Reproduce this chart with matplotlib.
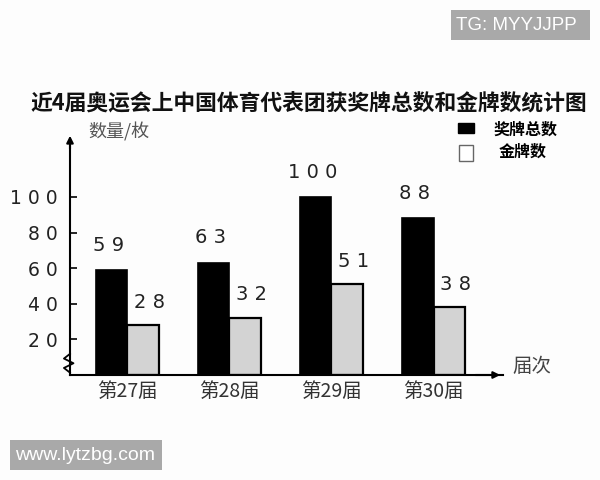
import matplotlib.pyplot as plt
import numpy as np

plt.rcParams['font.family'] = ['Noto Sans CJK SC', 'DejaVu Sans']

sessions = ['第27届', '第28届', '第29届', '第30届']
total_medals = [59, 63, 100, 88]
gold_medals = [28, 32, 51, 38]
yticks = [20, 40, 60, 80, 100]

fig = plt.figure(figsize=(6, 4.8), dpi=100)
fig.patch.set_facecolor('#fdfdfd')
# axes placed in pixel terms: left spine x=70, baseline y=375
ax = fig.add_axes([70 / 600, 1 - 375 / 480, 433 / 600, 235 / 480])
ax.set_facecolor('none')

x = np.arange(len(sessions))
w = 0.31
ax.bar(x - w / 2, total_medals, w, color='black', edgecolor='black', linewidth=1.2)
ax.bar(x + w / 2, gold_medals, w, color='#d3d3d3', edgecolor='black', linewidth=1.6)

for i in range(len(sessions)):
    ax.text(x[i] - w / 2 - 0.03, total_medals[i] + 14, ' '.join(str(total_medals[i])),
            ha='center', va='center', fontsize=14, color='#222222', family='DejaVu Sans')
    ax.text(x[i] + w / 2 + 0.06, gold_medals[i] + 13, ' '.join(str(gold_medals[i])),
            ha='center', va='center', fontsize=14, color='#222222', family='DejaVu Sans')

ax.set_xlim(-0.56, 3.68)
ax.set_ylim(0, 132)
ax.spines['top'].set_visible(False)
ax.spines['right'].set_visible(False)
ax.spines['left'].set_linewidth(1.5)
ax.spines['bottom'].set_linewidth(1.5)

ax.set_yticks(yticks)
ax.set_yticklabels([' '.join(str(t)) for t in yticks], fontsize=13.5, color='#222222',
                   family='DejaVu Sans')
ax.tick_params(axis='y', direction='in', length=5, width=1.2, pad=9)
ax.set_xticks(x)
ax.set_xticklabels(sessions, fontsize=14, color='#333333')
ax.tick_params(axis='x', length=0, pad=4)

# arrows on axes
ax.annotate('', xy=(0, 1.03), xytext=(0, 0.95), xycoords='axes fraction',
            arrowprops=dict(arrowstyle='-|>', color='black', lw=1.5, mutation_scale=10))
ax.annotate('', xy=(1.0, 0), xytext=(0.93, 0), xycoords='axes fraction',
            arrowprops=dict(arrowstyle='-|>', color='black', lw=1.5, mutation_scale=10))

# break mark on y axis
ax.plot([0, -0.014, 0.008, -0.014, 0], [0.01, 0.03, 0.05, 0.07, 0.09],
        transform=ax.transAxes, color='black', lw=1.3, clip_on=False)

fig.text(88 / 600, 1 - 132 / 480, '数量/枚', fontsize=13, color='#555555', va='center')
fig.text(512 / 600, 1 - 367 / 480, '届次', fontsize=14, color='#444444', va='center')
fig.text(309 / 600, 1 - 104 / 480, '近4届奥运会上中国体育代表团获奖牌总数和金牌数统计图',
         fontsize=15.7, fontweight='bold', color='#111111', ha='center', va='center')

# legend
fig.patches.append(plt.Rectangle((458 / 600, 1 - 133 / 480), 16 / 600, 10 / 480,
                                 transform=fig.transFigure, facecolor='black',
                                 edgecolor='black'))
fig.patches.append(plt.Rectangle((459 / 600, 1 - 161 / 480), 14 / 600, 16 / 480,
                                 transform=fig.transFigure, facecolor='white',
                                 edgecolor='#666666', linewidth=1))
fig.text(493 / 600, 1 - 130 / 480, '奖牌总数', fontsize=11.5, fontweight='bold', va='center')
fig.text(499 / 600, 1 - 152 / 480, '金牌数', fontsize=11.5, fontweight='bold', va='center')

# watermarks
fig.patches.append(plt.Rectangle((451 / 600, 1 - 40 / 480), 139 / 600, 30 / 480,
                                 transform=fig.transFigure, facecolor='#a9a9a9',
                                 edgecolor='none'))
fig.text(516 / 600, 1 - 25 / 480, 'TG: MYYJJPP', fontsize=13.5, color='white',
         ha='center', va='center', family='Liberation Sans')
fig.patches.append(plt.Rectangle((10 / 600, 1 - 470 / 480), 152 / 600, 30 / 480,
                                 transform=fig.transFigure, facecolor='#a9a9a9',
                                 edgecolor='none'))
fig.text(85 / 600, 1 - 455 / 480, 'www.lytzbg.com', fontsize=14, color='white',
         ha='center', va='center', family='Liberation Sans')

plt.savefig('out.png', dpi=100, facecolor=fig.get_facecolor())
